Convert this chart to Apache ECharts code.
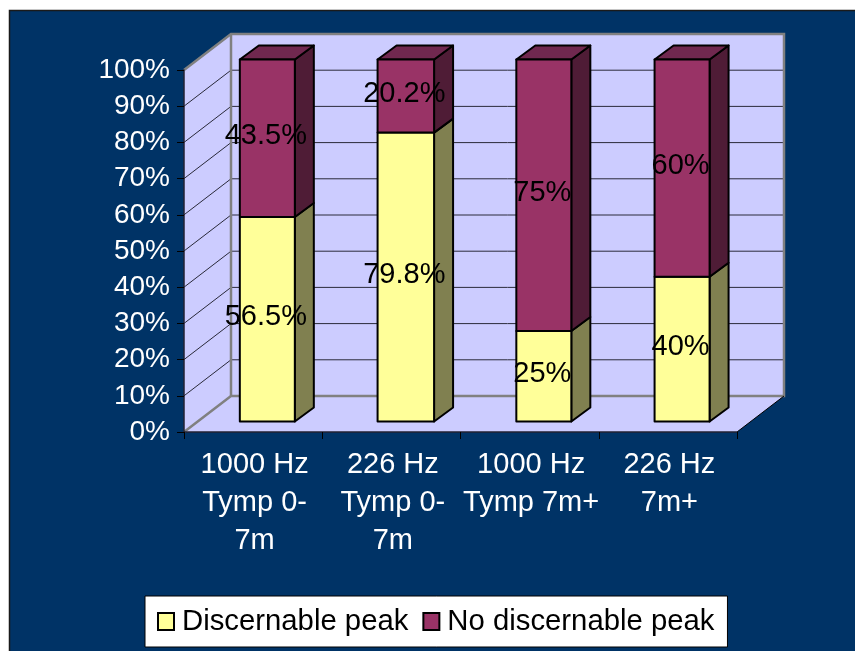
<!DOCTYPE html>
<html><head><meta charset="utf-8">
<style>html,body{margin:0;padding:0;background:#fff}#c{width:855px;height:651px}</style>
<script src="https://cdn.jsdelivr.net/npm/echarts@6/dist/echarts.min.js"></script>
</head><body><div id="c"></div>
<script>
const categories = ['1000 Hz\nTymp 0-\n7m', '226 Hz\nTymp 0-\n7m', '1000 Hz\nTymp 7m+', '226 Hz\n7m+'];
const discernable = [56.5, 79.8, 25, 40];
const noDiscernable = [43.5, 20.2, 75, 60];
const yTicks = [0, 10, 20, 30, 40, 50, 60, 70, 80, 90, 100];
const FONT = '"Liberation Sans", Arial, sans-serif';
const WALL = [47, -36], BAR_FRONT = [14.2, -10.5], BAR_BACK = [33.2, -24.5];
const BAR_W = 55;

function wallItem(params, api) {
  const v = api.value(0);
  const cs = params.coordSys;
  const L = cs.x, R = cs.x + cs.width, B = cs.y + cs.height, T = cs.y;
  const y = api.coord([0, v])[1];
  const kids = [];
  const gray = '#808080', dark = '#2a2a3a';
  if (params.dataIndex === 0) {
    kids.push({type:'polygon', z2:0, shape:{points:[[L,B],[L+WALL[0],B+WALL[1]],[R+WALL[0],B+WALL[1]],[R,B]]}, style:{fill:'#CCCCFF'}});
    kids.push({type:'polygon', z2:0, shape:{points:[[L,T],[L+WALL[0],T+WALL[1]],[L+WALL[0],B+WALL[1]],[L,B]]}, style:{fill:'#CCCCFF'}});
    kids.push({type:'rect', z2:0, shape:{x:L+WALL[0],y:T+WALL[1],width:R-L,height:B-T}, style:{fill:'#CCCCFF'}});
    kids.push({type:'polyline', z2:3, shape:{points:[[L,T],[L+WALL[0],T+WALL[1]],[R+WALL[0],T+WALL[1]],[R+WALL[0],B+WALL[1]],[L+WALL[0],B+WALL[1]],[L,B]]}, style:{fill:null,stroke:gray,lineWidth:2.5}});
    kids.push({type:'line', z2:3, shape:{x1:L+WALL[0],y1:T+WALL[1],x2:L+WALL[0],y2:B+WALL[1]}, style:{stroke:gray,lineWidth:2.5}});
    kids.push({type:'line', z2:3, shape:{x1:R,y1:B,x2:R+WALL[0],y2:B+WALL[1]}, style:{stroke:'#000',lineWidth:1}});
  } else if (v < 100) {
    kids.push({type:'polyline', z2:1, shape:{points:[[L,y],[L+WALL[0],y+WALL[1]],[R+WALL[0],y+WALL[1]]]}, style:{fill:null,stroke:dark,lineWidth:1}});
  }
  return {type:'group', children:kids};
}

function shade(kind) {
  return kind === 0 ? {front:'#FFFF99', side:'#808050', top:'#B3B36B'} : {front:'#993366', side:'#4F1C36', top:'#70284F'};
}

function barItem(kind) {
  return function (params, api) {
    const i = api.value(0), base = api.value(1), end = api.value(2);
    const c = shade(kind);
    const p0 = api.coord([i, base]), p1 = api.coord([i, end]);
    const x0 = p0[0] + BAR_FRONT[0] - BAR_W / 2 + (i === 1 ? -0.5 : 0);
    const w = BAR_W + (i === 1 ? 1.5 : 0);
    const yb = p0[1] + BAR_FRONT[1], yt = p1[1] + BAR_FRONT[1];
    const dx = BAR_BACK[0] - BAR_FRONT[0], dy = BAR_BACK[1] - BAR_FRONT[1];
    const line = {stroke:'#000', lineWidth:2, lineJoin:'round'};
    const kids = [
      {type:'polygon', z2:5, shape:{points:[[x0+w,yb],[x0+w+dx,yb+dy],[x0+w+dx,yt+dy],[x0+w,yt]]}, style:Object.assign({fill:c.side}, line)},
      {type:'rect', z2:6, shape:{x:x0,y:yt,width:w,height:yb-yt}, style:Object.assign({fill:c.front}, line)},
      {type:'text', z2:20, style:{text:api.value(3) + '%', x:x0 + w / 2 - 1.5, y:(yb + yt) / 2 - 2, align:'center', verticalAlign:'middle', fill:'#000', font:'29px ' + FONT}}
    ];
    if (end >= 100) {
      kids.push({type:'polygon', z2:5, shape:{points:[[x0,yt],[x0+dx,yt+dy],[x0+w+dx,yt+dy],[x0+w,yt]]}, style:Object.assign({fill:c.top}, line)});
    }
    return {type:'group', children:kids};
  };
}

const chart = echarts.init(document.getElementById('c'), null, {renderer:'canvas'});
chart.setOption({
  animation:false,
  backgroundColor:'#fff',
  graphic:[{type:'rect', z:-10, silent:true, shape:{x:9.5,y:10.5,width:860,height:660}, style:{fill:'#003366',stroke:'#1a1a1a',lineWidth:1.5}}],
  grid:{left:184, top:70, width:553, height:362, containLabel:false},
  xAxis:{type:'category', data:categories, boundaryGap:true, z:10,
    axisLine:{lineStyle:{color:'#222233',width:1.5}}, axisTick:{show:true,length:7,alignWithLabel:false,lineStyle:{color:'#000',width:1}},
    axisLabel:{color:'#fff',fontFamily:FONT,fontSize:29,lineHeight:38,margin:14,interval:0,padding:[0,0,0,3]}},
  yAxis:{type:'value', min:0, max:100, interval:10, z:10, splitLine:{show:false},
    axisLine:{show:true,lineStyle:{color:'#222233',width:1.5}}, axisTick:{show:true,length:7,lineStyle:{color:'#000',width:1}},
    axisLabel:{color:'#fff',fontFamily:FONT,fontSize:28,margin:14,padding:[5,0,0,0],formatter:'{value}%'}},
  legend:{left:145, top:596, orient:'horizontal', backgroundColor:'#fff', borderColor:'#000', borderWidth:1,
    padding:[11,13,11,12], itemWidth:16, itemHeight:17, itemGap:14,
    textStyle:{color:'#000',fontFamily:FONT,fontSize:29.3,padding:[0,0,0,3]},
    data:[{name:'Discernable peak',icon:'rect',itemStyle:{color:'#FFFF99',borderColor:'#000',borderWidth:2}},
          {name:'No discernable peak',icon:'rect',itemStyle:{color:'#993366',borderColor:'#000',borderWidth:2}}]},
  series:[
    {type:'custom', name:'walls', silent:true, z:1, renderItem:wallItem, data:yTicks.map(v=>[v]), encode:{y:0}},
    {type:'custom', name:'Discernable peak', z:3, renderItem:barItem(0), itemStyle:{color:'#FFFF99'},
      encode:{x:0,y:[1,2]}, data:discernable.map((v,i)=>[i,0,v,v])},
    {type:'custom', name:'No discernable peak', z:3, renderItem:barItem(1), itemStyle:{color:'#993366'},
      encode:{x:0,y:[1,2]}, data:noDiscernable.map((v,i)=>[i,discernable[i],discernable[i]+v,v])}
  ]
});
</script></body></html>
